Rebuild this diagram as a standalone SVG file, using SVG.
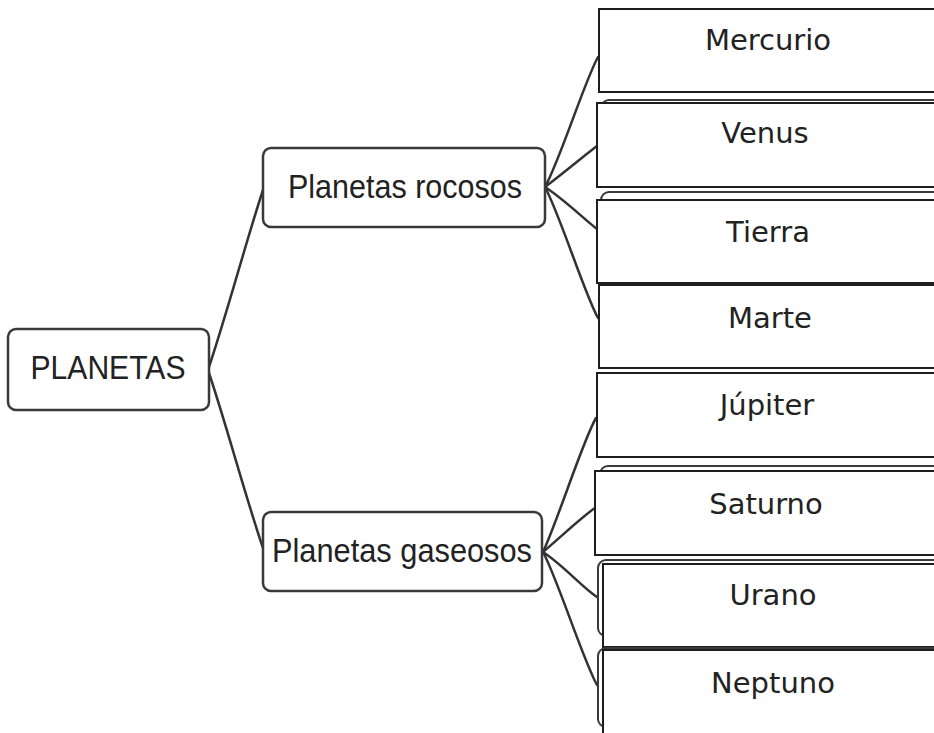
<svg xmlns="http://www.w3.org/2000/svg" width="934" height="733" viewBox="0 0 934 733">
<style>
.bg{fill:#ffffff}
.hub{fill:#ffffff;stroke:#3a3a3a;stroke-width:2.5}
.leaf{fill:#ffffff;stroke:#1e1e1e;stroke-width:2}
.back{fill:#ffffff;stroke:#3a3a3a;stroke-width:2}
.conn{fill:none;stroke:#333333;stroke-width:2.5;stroke-linecap:round}
.ht{font-family:"Liberation Sans",Arial,sans-serif;font-size:33px;fill:#222222;text-anchor:middle}
.lt{font-family:"DejaVu Sans",Verdana,sans-serif;font-size:29px;fill:#222222;text-anchor:middle}
</style>
<rect class="bg" x="0" y="0" width="934" height="733"/>
<g id="connectors">
<path class="conn" d="M208,370 C225,320 248,235 263,190"/>
<path class="conn" d="M208,370 C225,420 248,505 263,548"/>
<path class="conn" d="M545,187 C560,160 585,80 598,57"/>
<path class="conn" d="M545,187 C565,172 585,155 597,146"/>
<path class="conn" d="M545,187 C565,200 585,220 597,229"/>
<path class="conn" d="M545,187 C560,215 585,295 598,318"/>
<path class="conn" d="M543,552 C558,520 583,440 596,418"/>
<path class="conn" d="M543,552 C563,535 583,516 595,508"/>
<path class="conn" d="M543,552 C563,565 583,588 597,597"/>
<path class="conn" d="M543,552 C558,580 583,660 597,685"/>
</g>
<g id="planetas">
<rect class="hub" x="8" y="329" width="201" height="81" rx="8"/>
<text class="ht" x="108" y="379" textLength="155" lengthAdjust="spacingAndGlyphs">PLANETAS</text>
</g>
<g id="rocosos">
<rect class="hub" x="263" y="148" width="282" height="79" rx="8"/>
<text class="ht" x="405" y="198" textLength="234" lengthAdjust="spacingAndGlyphs">Planetas rocosos</text>
</g>
<g id="gaseosos">
<rect class="hub" x="263" y="512" width="279" height="79" rx="8"/>
<text class="ht" x="402" y="562" textLength="260" lengthAdjust="spacingAndGlyphs">Planetas gaseosos</text>
</g>
<g id="mercurio">
<rect class="leaf" x="599" y="9" width="345" height="83"/>
<text class="lt" x="768" y="50">Mercurio</text>
</g>
<g id="venus">
<rect class="back" x="601" y="100" width="345" height="84" rx="8"/>
<rect class="leaf" x="597" y="103" width="345" height="84"/>
<text class="lt" x="765" y="143">Venus</text>
</g>
<g id="tierra">
<rect class="back" x="601" y="192" width="345" height="84" rx="8"/>
<rect class="leaf" x="597" y="200" width="345" height="83"/>
<text class="lt" x="768" y="242">Tierra</text>
</g>
<g id="marte">
<rect class="leaf" x="599" y="285" width="345" height="83"/>
<text class="lt" x="770" y="328">Marte</text>
</g>
<g id="jupiter">
<rect class="leaf" x="597" y="373" width="345" height="84"/>
<text class="lt" x="767" y="415">Júpiter</text>
</g>
<g id="saturno">
<rect class="back" x="600" y="466" width="345" height="84" rx="8"/>
<rect class="leaf" x="595" y="471" width="345" height="84"/>
<text class="lt" x="766" y="514">Saturno</text>
</g>
<g id="urano">
<rect class="back" x="598" y="560" width="345" height="76" rx="8"/>
<rect class="leaf" x="603" y="564" width="345" height="83"/>
<text class="lt" x="773" y="605">Urano</text>
</g>
<g id="neptuno">
<rect class="back" x="598" y="648" width="345" height="79" rx="8"/>
<rect class="leaf" x="603" y="650" width="345" height="100"/>
<text class="lt" x="773" y="693">Neptuno</text>
</g>
</svg>
